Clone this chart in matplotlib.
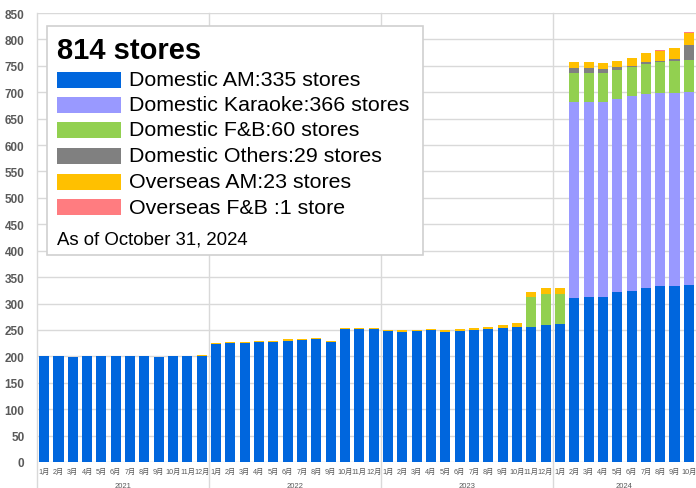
import numpy as np
import matplotlib
matplotlib.use('Agg')
import matplotlib.pyplot as plt
from matplotlib.patches import Rectangle
import matplotlib.transforms as mtransforms

plt.rcParams['font.family'] = ['Liberation Sans', 'Noto Sans CJK JP', 'DejaVu Sans']

# months Jan 2021 .. Oct 2024
years = ['2021', '2022', '2023', '2024']
month_labels = [f'{m}月' for m in range(1, 13)] * 3 + [f'{m}月' for m in range(1, 11)]

dom_am = [201, 201, 198, 200, 201, 201, 200, 200, 199, 200, 200, 200,
          224, 225, 226, 227, 228, 230, 231, 232, 227, 252, 252, 251,
          248, 247, 248, 249, 247, 248, 250, 251, 253, 255, 255, 260,
          262, 311, 312, 312, 321, 324, 330, 333, 333, 335]
dom_karaoke = [0] * 37 + [371, 370, 369, 367, 368, 366, 366, 366, 366]
dom_fb = [0] * 34 + [57, 58, 56, 55, 55, 55, 55, 56, 58, 58, 61, 60]
dom_others = [0] * 37 + [9, 9, 8, 5, 2, 3, 3, 2, 29]
ovs_am = [0] * 11 + [2] + [2] * 12 + \
         [2, 2, 2, 3, 3, 3, 4, 5, 7, 8, 10, 11] + \
         [12, 11, 11, 11, 11, 15, 18, 19, 21, 23]
ovs_fb = [0] * 43 + [1, 1, 1]

series = [
    ('Domestic AM:335 stores', dom_am, '#0066DD'),
    ('Domestic Karaoke:366 stores', dom_karaoke, '#9999FF'),
    ('Domestic F&B:60 stores', dom_fb, '#92D050'),
    ('Domestic Others:29 stores', dom_others, '#808080'),
    ('Overseas AM:23 stores', ovs_am, '#FFC000'),
    ('Overseas F&B :1 store', ovs_fb, '#FF7C80'),
]

fig = plt.figure(figsize=(6.96, 4.89), dpi=100)
ax = fig.add_axes([37 / 696, 1 - 463 / 489, 659 / 696, 449 / 489])

x = np.arange(len(dom_am))
bottom = np.zeros(len(x))
for name, vals, col in series:
    vals = np.array(vals, dtype=float)
    ax.bar(x, vals, bottom=bottom, width=0.7, color=col, zorder=3)
    bottom += vals

ax.set_xlim(-0.5, len(x) - 0.5)
ax.set_ylim(0, 850)
ax.set_yticks(range(0, 851, 50))
ax.grid(axis='y', color='#d9d9d9', lw=1, zorder=0)
for s in ['top', 'right', 'bottom', 'left']:
    ax.spines[s].set_visible(False)
ax.tick_params(axis='y', length=0, labelsize=8.5, labelcolor='#595959', pad=9)
for lab in ax.get_yticklabels():
    lab.set_fontweight('bold')
ax.set_xticks([])

# year separators extending into label area
for b in [-0.5, 11.5, 23.5, 35.5]:
    ax.axvline(b, ymin=-0.058, ymax=1, color='#d9d9d9', lw=1, clip_on=False, zorder=1)

trans = mtransforms.blended_transform_factory(ax.transData, ax.transAxes)
for i, lab in enumerate(month_labels):
    ax.text(i, -0.02, lab, transform=trans, ha='center', va='center',
            fontsize=5.2, color='#595959')
year_centers = [5.5, 17.5, 29.5, 40.5]
for yc, yl in zip(year_centers, years):
    ax.text(yc, -0.053, yl, transform=trans, ha='center', va='center',
            fontsize=5.5, color='#595959')

# legend box drawn in figure pixels
def fx(px):
    return px / 696

def fy(py):
    return 1 - py / 489

fig.patches.append(Rectangle((fx(47), fy(256)), fx(423) - fx(47), fy(27) - fy(256),
                             transform=fig.transFigure, facecolor='white',
                             edgecolor='#d0d0d0', lw=1.2, zorder=10))
fig.text(fx(57), fy(51), '814 stores', fontsize=21, fontweight='bold',
         va='center', ha='left', zorder=11)
ys = [81, 106, 131, 157, 183, 208]
for (name, vals, col), yy in zip(series, ys):
    fig.patches.append(Rectangle((fx(57), fy(yy + 8)), fx(121) - fx(57), fy(yy - 8) - fy(yy + 8),
                                 transform=fig.transFigure, facecolor=col,
                                 edgecolor='none', zorder=11))
    fig.text(fx(129), fy(yy), name, fontsize=15.4, va='center', ha='left', zorder=11)
fig.text(fx(57), fy(240), 'As of October 31, 2024', fontsize=13.4,
         va='center', ha='left', zorder=11)

fig.savefig('out.png', dpi=100)
